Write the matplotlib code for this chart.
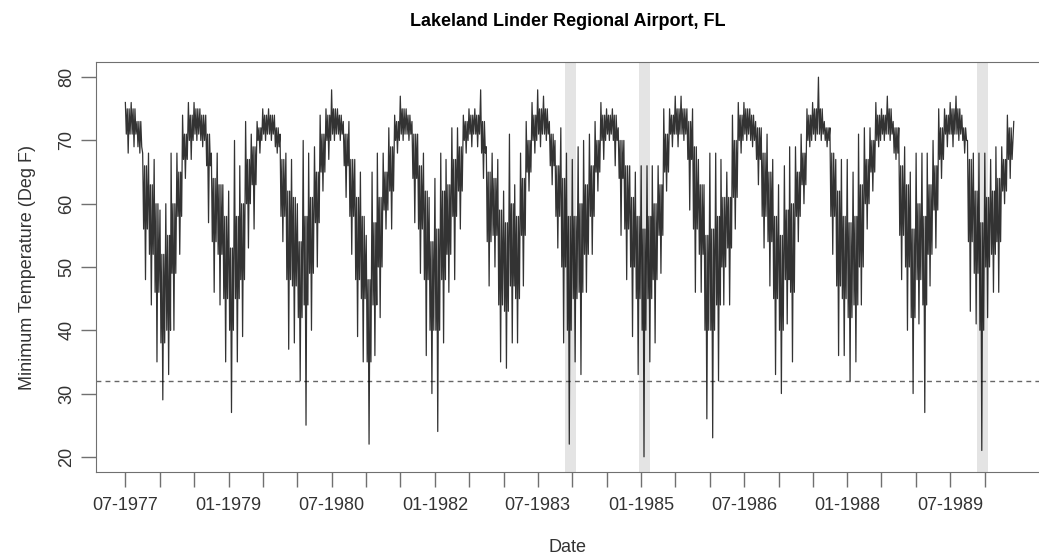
import numpy as np
import pandas as pd
import matplotlib
matplotlib.use("Agg")
import matplotlib.pyplot as plt

plt.rcParams['font.family'] = ['Liberation Sans', 'DejaVu Sans']

# daily minimum temperature (deg F), read off per month:
# highest, top of the dark core, bottom of the dark core, lowest
first_month = "1977-07"
month_hi = [
    76, 76, 73, 68, 68, 67,                              # 1977 Jul-Dec
    59, 60, 68, 68, 74, 76, 76, 75, 74, 68, 68, 63,      # 1978
    62, 70, 66, 73, 71, 73, 75, 75, 74, 71, 68, 67,      # 1979
    60, 70, 68, 69, 74, 75, 78, 75, 73, 73, 67, 65,      # 1980
    55, 65, 68, 68, 72, 74, 77, 75, 73, 71, 68, 61,      # 1981
    64, 68, 67, 72, 72, 74, 75, 75, 78, 69, 68, 67,      # 1982
    62, 71, 63, 68, 73, 76, 78, 77, 73, 70, 72, 68,      # 1983
    67, 69, 70, 71, 73, 76, 75, 75, 72, 70, 66, 65,      # 1984
    66, 66, 66, 66, 75, 75, 77, 77, 75, 75, 67, 63,      # 1985
    68, 68, 67, 65, 74, 76, 76, 75, 73, 72, 71, 67,      # 1986
    63, 66, 69, 69, 71, 75, 76, 80, 73, 72, 67, 67,      # 1987
    67, 65, 71, 72, 72, 76, 75, 77, 73, 72, 69, 65,      # 1988
    68, 68, 68, 70, 75, 75, 76, 77, 74, 70, 68, 68,      # 1989
    68, 67, 69, 69, 74,                                  # 1990 Jan-May
]
core_top = [
    75, 75, 73, 66, 63, 60,
    52, 55, 60, 65, 71, 74, 75, 74, 71, 64, 63, 58,
    53, 58, 60, 67, 69, 72, 74, 74, 72, 67, 62, 61,
    54, 58, 61, 65, 71, 74, 75, 74, 71, 67, 61, 58,
    48, 57, 61, 65, 69, 73, 75, 74, 71, 66, 62, 54,
    56, 62, 63, 67, 69, 73, 74, 74, 73, 65, 64, 59,
    57, 60, 58, 64, 70, 74, 75, 75, 71, 66, 64, 58,
    58, 60, 63, 66, 70, 74, 74, 74, 70, 66, 61, 58,
    56, 58, 60, 63, 71, 74, 75, 75, 73, 69, 63, 55,
    56, 58, 61, 61, 70, 74, 75, 74, 72, 68, 65, 58,
    55, 59, 60, 65, 68, 74, 75, 75, 72, 68, 62, 58,
    57, 58, 63, 67, 70, 74, 74, 75, 72, 66, 63, 56,
    60, 58, 63, 66, 72, 74, 75, 75, 72, 67, 62, 57,
    61, 62, 64, 67, 72,
]
core_bottom = [
    71, 71, 69, 56, 52, 46,
    38, 40, 49, 58, 67, 70, 71, 70, 66, 54, 52, 45,
    40, 45, 48, 60, 63, 70, 71, 71, 69, 58, 48, 47,
    42, 44, 49, 57, 65, 70, 71, 71, 66, 58, 48, 45,
    35, 44, 50, 59, 62, 70, 71, 71, 64, 56, 48, 40,
    40, 48, 52, 58, 62, 70, 71, 71, 68, 54, 55, 44,
    43, 47, 45, 55, 65, 70, 71, 71, 66, 58, 50, 40,
    45, 46, 52, 58, 65, 70, 71, 70, 64, 56, 50, 45,
    40, 45, 48, 55, 65, 71, 71, 71, 67, 56, 52, 40,
    40, 44, 50, 53, 61, 70, 71, 70, 67, 58, 54, 45,
    40, 48, 46, 58, 63, 70, 71, 71, 70, 58, 47, 45,
    42, 44, 50, 60, 65, 70, 71, 71, 68, 55, 50, 42,
    48, 44, 52, 59, 67, 71, 71, 71, 70, 54, 49, 40,
    50, 52, 54, 62, 67,
]
month_lo = [
    68, 69, 68, 48, 44, 35,
    29, 33, 40, 52, 64, 67, 70, 69, 57, 46, 44, 35,
    27, 35, 39, 53, 56, 68, 70, 70, 68, 54, 37, 38,
    32, 25, 40, 50, 62, 67, 70, 70, 61, 52, 39, 35,
    22, 36, 42, 56, 56, 68, 70, 70, 57, 49, 36, 30,
    24, 38, 46, 48, 56, 68, 69, 69, 64, 47, 50, 35,
    34, 38, 38, 47, 62, 68, 69, 70, 63, 53, 38, 22,
    35, 33, 46, 52, 62, 67, 70, 66, 55, 48, 39, 33,
    20, 35, 38, 49, 62, 69, 69, 70, 59, 46, 46, 26,
    23, 32, 44, 44, 56, 68, 70, 69, 63, 53, 47, 33,
    30, 41, 35, 54, 60, 69, 70, 70, 69, 52, 36, 36,
    32, 35, 44, 56, 62, 69, 70, 70, 67, 48, 40, 30,
    41, 27, 47, 53, 64, 69, 69, 70, 68, 43, 41, 21,
    42, 46, 46, 60, 64,
]
last_date = "1990-06-04"
last_value = 73

freeze_temp = 32
freeze_spans = [("1983-11-22", "1984-01-22"),
                ("1984-12-19", "1985-02-17"),
                ("1989-11-21", "1990-01-20")]

tick_start, tick_end = "1977-07-01", "1990-01-01"

# build the line: six readings spread over each month
months = pd.period_range(first_month, periods=len(month_hi), freq="M").to_timestamp()
dates, temps = [], []
for m, hi, ct, cb, lo in zip(months, month_hi, core_top, core_bottom, month_lo):
    for day, v in zip((1, 6, 11, 16, 21, 26), (hi, cb, ct, lo, ct, cb)):
        dates.append(m + pd.Timedelta(days=day - 1))
        temps.append(v)
dates.append(pd.Timestamp(last_date))
temps.append(last_value)

fig = plt.figure(figsize=(10.39, 5.58), dpi=100)
ax = fig.add_axes([96 / 1039, 86 / 558, 943 / 1039, 410 / 558])

for a, b in freeze_spans:
    ax.axvspan(pd.Timestamp(a), pd.Timestamp(b), color="#e4e4e4", lw=0, zorder=0)
ax.axhline(freeze_temp, color="#666666", lw=1, ls=(0, (3.5, 3)), zorder=1)
ax.plot(dates, temps, color="black", lw=0.9, alpha=0.8, zorder=2)

ax.set_ylim(17.6, 82.4)
ax.set_yticks(range(20, 81, 10))
ax.set_xlim(pd.Timestamp("1977-01-26"), pd.Timestamp("1990-10-16"))

ticks = pd.date_range(tick_start, tick_end, freq="6MS")
labels = [t.strftime("%m-%Y") if i % 3 == 0 else "" for i, t in enumerate(ticks)]
ax.set_xticks(ticks)
ax.set_xticklabels(labels)

for s in ["left", "top", "bottom"]:
    ax.spines[s].set_color("#707070")
ax.spines["right"].set_visible(False)
ax.tick_params(axis="both", length=11, width=1, color="#707070",
               labelsize=13, labelcolor="#333333", pad=7)
ax.tick_params(axis="y", pad=4)
for lab in ax.get_yticklabels():
    lab.set_rotation(90)
    lab.set_va("center")

ax.set_title("Lakeland Linder Regional Airport, FL", fontsize=13,
             fontweight="bold", pad=26)
ax.set_xlabel("Date", fontsize=13, color="#333333", labelpad=18)
ax.set_ylabel("Minimum Temperature (Deg F)", fontsize=13, color="#333333",
              labelpad=16)

fig.savefig("out.png", dpi=100)
